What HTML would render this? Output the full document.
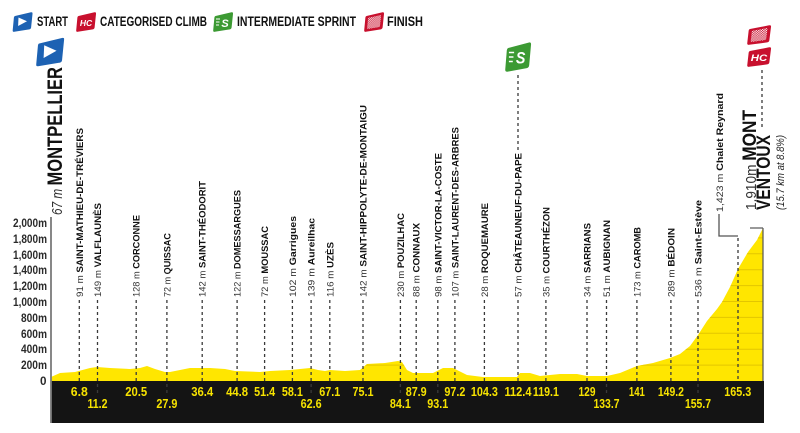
<!DOCTYPE html>
<html><head><meta charset="utf-8"><style>
html,body{margin:0;padding:0;background:#fff;}
svg{display:block;}
text{font-family:"Liberation Sans",sans-serif;}
</style></head><body>
<svg width="800" height="433" viewBox="0 0 800 433" xmlns="http://www.w3.org/2000/svg">
<defs>
<path id="sh" d="M2.5,4 L18.5,0.3 Q20.3,0 20,2 L18.6,15.5 Q18.4,17 16.8,17.4 L1.8,19.8 Q0,20 0.2,18.2 L1.4,5.5 Q1.6,4.3 2.5,4 Z"/>
<pattern id="chk" width="3" height="3" patternUnits="userSpaceOnUse"><rect x="0" y="0" width="1.5" height="1.5" fill="#fff"/><rect x="1.5" y="1.5" width="1.5" height="1.5" fill="#fff"/></pattern>
<clipPath id="pc"><path d="M51,381 L51,377 L60,373 L75,372 L90,368 L97,367 L110,368 L130,369 L140,368 L147,366 L155,369 L165,372 L170,372 L180,370 L190,368 L210,368 L225,369 L235,371 L260,372 L270,371 L290,370 L300,369 L310,368 L318,370 L325,371 L330,370 L345,371 L360,370 L367,364 L385,363 L398,361 L402,362 L407,370 L413,373 L433,373 L443,368 L453,368 L467,375 L483,377 L517,377 L520,373 L530,373 L540,376 L560,374 L577,374 L587,376 L607,376 L620,373 L637,366 L653,363 L670,358 L680,354 L690,346 L698,335 L707,321 L717,309 L722,302 L730,287 L738,269 L748,252 L757,240 L763,228 L763,381 Z"/></clipPath>
</defs>

<!-- Legend -->
<g transform="translate(12.5,12)"><use href="#sh" fill="#1d62b3"/><path d="M6,5.5 L14.5,9.2 L5.6,14 Z" fill="#fff"/></g>
<text x="37" y="26" font-size="13.5" font-weight="bold" fill="#111" textLength="31" lengthAdjust="spacingAndGlyphs">START</text>
<g transform="translate(76,12)"><use href="#sh" fill="#c8102e"/><text x="10" y="14" font-size="8.5" font-weight="bold" font-style="italic" fill="#fff" text-anchor="middle">HC</text></g>
<text x="100" y="26" font-size="13.5" font-weight="bold" fill="#111" textLength="107" lengthAdjust="spacingAndGlyphs">CATEGORISED CLIMB</text>
<g transform="translate(213,12)"><use href="#sh" fill="#3c9a33"/><text x="12" y="15" font-size="11" font-weight="bold" font-style="italic" fill="#fff" text-anchor="middle">S</text><path d="M3,7h4M3,10h3.5M3,13h3" stroke="#fff" stroke-width="1"/></g>
<text x="237" y="26" font-size="13.5" font-weight="bold" fill="#111" textLength="119" lengthAdjust="spacingAndGlyphs">INTERMEDIATE SPRINT</text>
<g transform="translate(364,12)"><use href="#sh" fill="#c8102e"/><use href="#sh" fill="url(#chk)" transform="translate(3,3) scale(0.7)"/></g>
<text x="387" y="26" font-size="13.5" font-weight="bold" fill="#111" textLength="36" lengthAdjust="spacingAndGlyphs">FINISH</text>

<!-- Y axis labels -->
<g font-size="12" font-weight="bold" fill="#2a2a2a">
<text x="13" y="227" textLength="34" lengthAdjust="spacingAndGlyphs">2,000m</text>
<text x="13" y="243" textLength="34" lengthAdjust="spacingAndGlyphs">1,800m</text>
<text x="13" y="259" textLength="34" lengthAdjust="spacingAndGlyphs">1,600m</text>
<text x="13" y="274" textLength="34" lengthAdjust="spacingAndGlyphs">1,400m</text>
<text x="13" y="290" textLength="34" lengthAdjust="spacingAndGlyphs">1,200m</text>
<text x="13" y="306" textLength="34" lengthAdjust="spacingAndGlyphs">1,000m</text>
<text x="21" y="322" textLength="26" lengthAdjust="spacingAndGlyphs">800m</text>
<text x="21" y="338" textLength="26" lengthAdjust="spacingAndGlyphs">600m</text>
<text x="21" y="353" textLength="26" lengthAdjust="spacingAndGlyphs">400m</text>
<text x="21" y="369" textLength="26" lengthAdjust="spacingAndGlyphs">200m</text>
<text x="40" y="385" textLength="6.5" lengthAdjust="spacingAndGlyphs">0</text>
</g>

<!-- Profile -->
<rect x="51" y="200" width="713" height="181" fill="#ffe600" clip-path="url(#pc)"/>
<g clip-path="url(#pc)" stroke="#e3c600" stroke-width="1">
<path d="M51,365.1H764M51,349.2H764M51,333.3H764M51,317.4H764M51,301.5H764M51,285.6H764M51,269.7H764M51,253.8H764M51,237.9H764"/>
</g>
<line x1="763" y1="228" x2="763" y2="381" stroke="#555" stroke-width="1.2"/>
<line x1="750" y1="228" x2="763" y2="228" stroke="#555" stroke-width="1.2"/>

<!-- band -->
<rect x="51" y="381" width="713" height="42" fill="#141414"/>
<line x1="51" y1="217" x2="51" y2="423" stroke="#7a7a7a" stroke-width="1.8"/>

<!-- dashed lines -->
<g stroke="#3a3a3a" stroke-width="1.3" stroke-dasharray="3,3">
<line x1="79.3" y1="300" x2="79.3" y2="381"/>
<line x1="97.5" y1="300" x2="97.5" y2="396"/>
<line x1="136.2" y1="300" x2="136.2" y2="381"/>
<line x1="166.9" y1="300" x2="166.9" y2="396"/>
<line x1="202.2" y1="300" x2="202.2" y2="381"/>
<line x1="237.1" y1="300" x2="237.1" y2="381"/>
<line x1="264.6" y1="300" x2="264.6" y2="381"/>
<line x1="292.4" y1="300" x2="292.4" y2="381"/>
<line x1="311.1" y1="300" x2="311.1" y2="396"/>
<line x1="329.8" y1="300" x2="329.8" y2="381"/>
<line x1="363" y1="300" x2="363" y2="381"/>
<line x1="400.4" y1="300" x2="400.4" y2="396"/>
<line x1="416.2" y1="300" x2="416.2" y2="381"/>
<line x1="437.8" y1="300" x2="437.8" y2="396"/>
<line x1="454.9" y1="300" x2="454.9" y2="381"/>
<line x1="484.4" y1="300" x2="484.4" y2="381"/>
<line x1="518" y1="300" x2="518" y2="381"/>
<line x1="518" y1="75" x2="518" y2="150"/>
<line x1="545.9" y1="300" x2="545.9" y2="381"/>
<line x1="587" y1="300" x2="587" y2="381"/>
<line x1="606.5" y1="300" x2="606.5" y2="396"/>
<line x1="636.9" y1="300" x2="636.9" y2="381"/>
<line x1="670.9" y1="300" x2="670.9" y2="381"/>
<line x1="698" y1="300" x2="698" y2="396"/>
<line x1="738" y1="238" x2="738" y2="381"/>
<line x1="762" y1="70" x2="762" y2="127"/>
</g>
<polyline points="719,214 719,236 738,236" fill="none" stroke="#555" stroke-width="1.3"/>

<!-- place labels -->
<g font-size="9.5" fill="#111">
<text transform="translate(82.8,297) rotate(-90)" textLength="169" lengthAdjust="spacingAndGlyphs"><tspan fill="#333">91 m </tspan><tspan font-weight="bold">SAINT-MATHIEU-DE-TRÉVIERS</tspan></text>
<text transform="translate(101,297) rotate(-90)" textLength="94" lengthAdjust="spacingAndGlyphs"><tspan fill="#333">149 m </tspan><tspan font-weight="bold">VALFLAUNÈS</tspan></text>
<text transform="translate(139.7,297) rotate(-90)" textLength="82" lengthAdjust="spacingAndGlyphs"><tspan fill="#333">128 m </tspan><tspan font-weight="bold">CORCONNE</tspan></text>
<text transform="translate(170.4,297) rotate(-90)" textLength="64" lengthAdjust="spacingAndGlyphs"><tspan fill="#333">72 m </tspan><tspan font-weight="bold">QUISSAC</tspan></text>
<text transform="translate(205.7,297) rotate(-90)" textLength="116" lengthAdjust="spacingAndGlyphs"><tspan fill="#333">142 m </tspan><tspan font-weight="bold">SAINT-THÉODORIT</tspan></text>
<text transform="translate(240.6,297) rotate(-90)" textLength="107" lengthAdjust="spacingAndGlyphs"><tspan fill="#333">122 m </tspan><tspan font-weight="bold">DOMESSARGUES</tspan></text>
<text transform="translate(268.1,297) rotate(-90)" textLength="71" lengthAdjust="spacingAndGlyphs"><tspan fill="#333">72 m </tspan><tspan font-weight="bold">MOUSSAC</tspan></text>
<text transform="translate(295.9,297) rotate(-90)" textLength="81" lengthAdjust="spacingAndGlyphs"><tspan fill="#333">102 m </tspan><tspan font-weight="bold">Garrigues</tspan></text>
<text transform="translate(314.6,297) rotate(-90)" textLength="79" lengthAdjust="spacingAndGlyphs"><tspan fill="#333">139 m </tspan><tspan font-weight="bold">Aureilhac</tspan></text>
<text transform="translate(333.3,297) rotate(-90)" textLength="55" lengthAdjust="spacingAndGlyphs"><tspan fill="#333">116 m </tspan><tspan font-weight="bold">UZÈS</tspan></text>
<text transform="translate(366.5,297) rotate(-90)" textLength="192" lengthAdjust="spacingAndGlyphs"><tspan fill="#333">142 m </tspan><tspan font-weight="bold">SAINT-HIPPOLYTE-DE-MONTAIGU</tspan></text>
<text transform="translate(403.9,297) rotate(-90)" textLength="84" lengthAdjust="spacingAndGlyphs"><tspan fill="#333">230 m </tspan><tspan font-weight="bold">POUZILHAC</tspan></text>
<text transform="translate(419.7,297) rotate(-90)" textLength="74" lengthAdjust="spacingAndGlyphs"><tspan fill="#333">88 m </tspan><tspan font-weight="bold">CONNAUX</tspan></text>
<text transform="translate(441.3,297) rotate(-90)" textLength="144" lengthAdjust="spacingAndGlyphs"><tspan fill="#333">98 m </tspan><tspan font-weight="bold">SAINT-VICTOR-LA-COSTE</tspan></text>
<text transform="translate(458.4,297) rotate(-90)" textLength="170" lengthAdjust="spacingAndGlyphs"><tspan fill="#333">107 m </tspan><tspan font-weight="bold">SAINT-LAURENT-DES-ARBRES</tspan></text>
<text transform="translate(487.9,297) rotate(-90)" textLength="94" lengthAdjust="spacingAndGlyphs"><tspan fill="#333">28 m </tspan><tspan font-weight="bold">ROQUEMAURE</tspan></text>
<text transform="translate(521.5,297) rotate(-90)" textLength="144" lengthAdjust="spacingAndGlyphs"><tspan fill="#333">57 m </tspan><tspan font-weight="bold">CHÂTEAUNEUF-DU-PAPE</tspan></text>
<text transform="translate(549.4,297) rotate(-90)" textLength="90" lengthAdjust="spacingAndGlyphs"><tspan fill="#333">35 m </tspan><tspan font-weight="bold">COURTHÉZON</tspan></text>
<text transform="translate(590.5,297) rotate(-90)" textLength="74" lengthAdjust="spacingAndGlyphs"><tspan fill="#333">34 m </tspan><tspan font-weight="bold">SARRIANS</tspan></text>
<text transform="translate(610,297) rotate(-90)" textLength="77" lengthAdjust="spacingAndGlyphs"><tspan fill="#333">51 m </tspan><tspan font-weight="bold">AUBIGNAN</tspan></text>
<text transform="translate(640.4,297) rotate(-90)" textLength="70" lengthAdjust="spacingAndGlyphs"><tspan fill="#333">173 m </tspan><tspan font-weight="bold">CAROMB</tspan></text>
<text transform="translate(674.4,297) rotate(-90)" textLength="69" lengthAdjust="spacingAndGlyphs"><tspan fill="#333">289 m </tspan><tspan font-weight="bold">BÉDOIN</tspan></text>
<text transform="translate(701.5,297) rotate(-90)" textLength="97" lengthAdjust="spacingAndGlyphs"><tspan fill="#333">536 m </tspan><tspan font-weight="bold">Saint-Estève</tspan></text>
<text transform="translate(723,212) rotate(-90)" textLength="119" lengthAdjust="spacingAndGlyphs"><tspan fill="#333">1,423 m </tspan><tspan font-weight="bold">Chalet Reynard</tspan></text>
</g>

<!-- Montpellier -->
<text transform="translate(62,215) rotate(-90)" textLength="148" lengthAdjust="spacingAndGlyphs" fill="#111"><tspan font-size="15" font-style="italic" fill="#333">67 m </tspan><tspan font-size="21" font-weight="bold">MONTPELLIER</tspan></text>
<g transform="translate(35.5,37) scale(1.45,1.5)"><use href="#sh" fill="#1d62b3" stroke="#fff" stroke-width="0.6"/><path d="M6,5.5 L14.5,9.2 L5.6,14 Z" fill="#fff"/></g>

<!-- Sprint icon on chart -->
<g transform="translate(505,42) scale(1.3,1.5)"><use href="#sh" fill="#3c9a33"/><text x="12" y="14.5" font-size="11" font-weight="bold" font-style="italic" fill="#fff" text-anchor="middle">S</text><path d="M3,7h4M3,10h3.5M3,13h3" stroke="#fff" stroke-width="1"/></g>

<!-- Finish icons -->
<g transform="translate(747,25) scale(1.2,1.0)"><use href="#sh" fill="#c8102e"/><use href="#sh" fill="url(#chk)" transform="translate(3,3) scale(0.7)"/></g>
<g transform="translate(747,47) scale(1.2,1.0)"><use href="#sh" fill="#c8102e"/><text x="10" y="14" font-size="9.5" font-weight="bold" font-style="italic" fill="#fff" text-anchor="middle">HC</text></g>

<!-- Mont Ventoux -->
<text transform="translate(756,210) rotate(-90)" textLength="100" lengthAdjust="spacingAndGlyphs" fill="#111"><tspan font-size="15" fill="#333">1,910m </tspan><tspan font-size="19" font-weight="bold">MONT</tspan></text>
<text transform="translate(770,210) rotate(-90)" textLength="75" lengthAdjust="spacingAndGlyphs" font-size="19" font-weight="bold" fill="#111">VENTOUX</text>
<text transform="translate(784,210) rotate(-90)" textLength="75" lengthAdjust="spacingAndGlyphs" font-size="11" font-style="italic" fill="#222">(15.7 km at 8.8%)</text>

<!-- km labels -->
<g font-size="13" font-weight="bold" fill="#f7e300" text-anchor="middle" lengthAdjust="spacingAndGlyphs">
<text x="79.3" y="396" textLength="17" lengthAdjust="spacingAndGlyphs">6.8</text>
<text x="97.5" y="408" textLength="20" lengthAdjust="spacingAndGlyphs">11.2</text>
<text x="136.2" y="396" textLength="22" lengthAdjust="spacingAndGlyphs">20.5</text>
<text x="166.9" y="408" textLength="21" lengthAdjust="spacingAndGlyphs">27.9</text>
<text x="202.2" y="396" textLength="22" lengthAdjust="spacingAndGlyphs">36.4</text>
<text x="237.1" y="396" textLength="22" lengthAdjust="spacingAndGlyphs">44.8</text>
<text x="264.6" y="396" textLength="21" lengthAdjust="spacingAndGlyphs">51.4</text>
<text x="292.4" y="396" textLength="21" lengthAdjust="spacingAndGlyphs">58.1</text>
<text x="311.1" y="408" textLength="21" lengthAdjust="spacingAndGlyphs">62.6</text>
<text x="329.8" y="396" textLength="21" lengthAdjust="spacingAndGlyphs">67.1</text>
<text x="363" y="396" textLength="21" lengthAdjust="spacingAndGlyphs">75.1</text>
<text x="400.4" y="408" textLength="21" lengthAdjust="spacingAndGlyphs">84.1</text>
<text x="416.2" y="396" textLength="21" lengthAdjust="spacingAndGlyphs">87.9</text>
<text x="437.8" y="408" textLength="21" lengthAdjust="spacingAndGlyphs">93.1</text>
<text x="454.9" y="396" textLength="21" lengthAdjust="spacingAndGlyphs">97.2</text>
<text x="484.4" y="396" textLength="27" lengthAdjust="spacingAndGlyphs">104.3</text>
<text x="518" y="396" textLength="27" lengthAdjust="spacingAndGlyphs">112.4</text>
<text x="545.9" y="396" textLength="26" lengthAdjust="spacingAndGlyphs">119.1</text>
<text x="587" y="396" textLength="17" lengthAdjust="spacingAndGlyphs">129</text>
<text x="606.5" y="408" textLength="26" lengthAdjust="spacingAndGlyphs">133.7</text>
<text x="636.9" y="396" textLength="16" lengthAdjust="spacingAndGlyphs">141</text>
<text x="670.9" y="396" textLength="26" lengthAdjust="spacingAndGlyphs">149.2</text>
<text x="698" y="408" textLength="26" lengthAdjust="spacingAndGlyphs">155.7</text>
<text x="737.8" y="396" textLength="27" lengthAdjust="spacingAndGlyphs">165.3</text>
</g>
</svg>
</body></html>
